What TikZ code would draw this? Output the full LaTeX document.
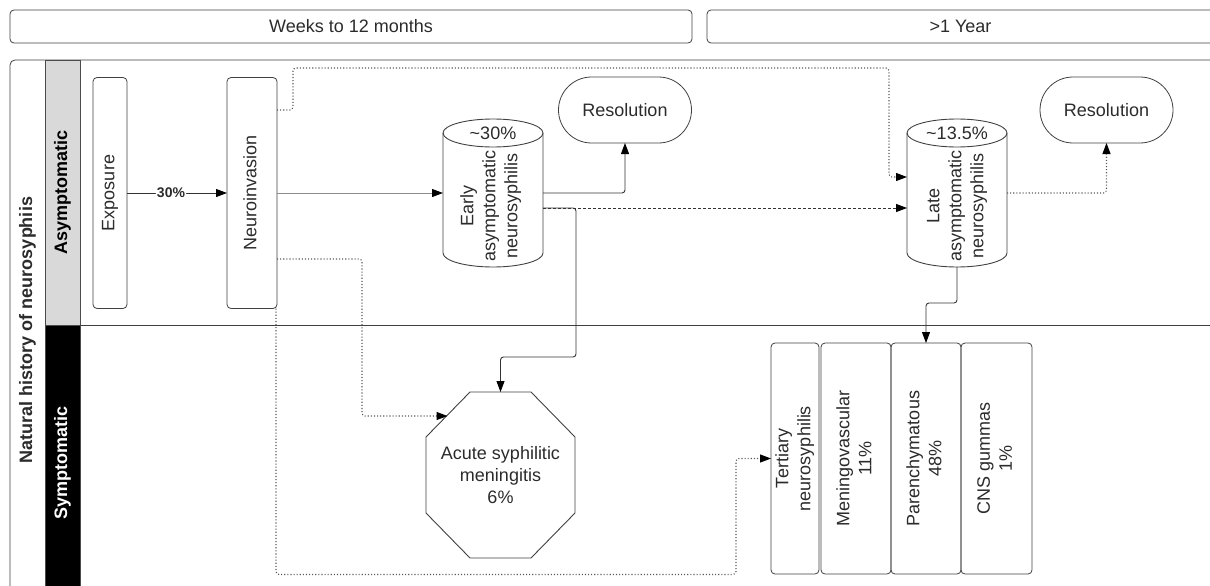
\documentclass[tikz,border=0pt]{standalone}
\usepackage{fontspec}
\setmainfont{Liberation Sans}
\usetikzlibrary{positioning,calc,arrows.meta}

\definecolor{lanegray}{HTML}{D9D9D9}
\definecolor{inkgray}{HTML}{2B2B2B}

\newcommand{\vtext}[1]{\rotatebox{90}{\begin{tabular}{@{}c@{}}#1\end{tabular}}}
\newcommand{\drawcyl}[1]{%
	\draw[shape_line] ([yshift=-14pt]#1.north west) -- ([yshift=14pt]#1.south west)
		arc[start angle=180, end angle=360, x radius=50pt, y radius=14pt]
		-- ([yshift=-14pt]#1.north east);
	\draw[shape_line] ([yshift=-14pt]#1.north) ellipse [x radius=50pt, y radius=14pt];}

\tikzstyle{bar} = [draw=black!75,
				   thick,
				   rounded corners=4pt,
				   minimum height=33pt,
				   outer sep=0pt,
				   font=\fontsize{18}{22}\selectfont,
				   text=inkgray,
				   anchor=west]
\tikzstyle{lane_head} = [draw=black!70,
						 minimum width=35pt,
						 inner sep=0pt,
						 outer sep=0pt,
						 font=\bfseries\fontsize{18}{22}\selectfont,
						 anchor=north]
\tikzstyle{tall_box} = [draw=black!75,
						thick,
						rounded corners=4pt,
						minimum height=231pt,
						inner sep=0pt,
						outer sep=0pt,
						font=\fontsize{18}{22}\selectfont,
						text=inkgray]
\tikzstyle{stadium} = [draw=black!75,
					   thick,
					   rounded corners=33pt,
					   minimum width=133pt,
					   minimum height=66pt,
					   outer sep=0pt,
					   font=\fontsize{18}{22}\selectfont,
					   text=inkgray]
\tikzstyle{cyl_body} = [minimum width=100pt,
						minimum height=148pt,
						inner sep=0pt,
						outer sep=0pt]
\tikzstyle{txt} = [inner sep=0pt,
				   font=\fontsize{18}{22}\selectfont,
				   text=inkgray]
\tikzstyle{pct_label} = [fill=white,
						 inner sep=1pt,
						 font=\bfseries\fontsize{14}{16}\selectfont,
						 text=inkgray]
\tikzstyle{shape_line} = [draw=black!75, line width=0.9pt]
\tikzstyle{conn_arrow} = [draw=black!80,
						  line width=0.9pt,
						  rounded corners=3pt,
						  -{Triangle[length=11pt,width=8pt,color=black]}]
\tikzstyle{conn_dot} = [conn_arrow, draw=black!65, line width=1.1pt, dotted]
\tikzstyle{conn_dash} = [conn_arrow, dash pattern=on 3pt off 2pt]

\begin{document}
\begin{tikzpicture}[x=1pt, y=-1pt]
	\useasboundingbox (0,0) rectangle (1210,586);
	\clip (0,0) rectangle (1210,586);

	%%%%%%%%%%%%
	% TIMELINE %
	%%%%%%%%%%%%
	\node[bar, minimum width=682pt] (weeks) at (10,26.5) {Weeks to 12 months};
	\node[bar, minimum width=507pt, right=15pt of weeks] (year) {>1 Year};

	%%%%%%%%%%%%%
	% SWIMLANES %
	%%%%%%%%%%%%%
	\draw[draw=black!75, thick, rounded corners=5pt] (1214,60) -- (10,60) -- (10,600);
	\node[lane_head, fill=lanegray, minimum height=265pt] (asym) at (62.5,60) {\rotatebox{90}{Asymptomatic}};
	\node[lane_head, fill=black, text=white, minimum height=275pt, below=0pt of asym] (symp) {\rotatebox{90}{Symptomatic}};
	\draw[draw=black!75, thick] (asym.south east) -- ++(1134,0);
	\node[font=\bfseries\fontsize{18}{22}\selectfont, text=inkgray] (title) at (27.5,330) {\rotatebox{90}{Natural history of neurosyphiis}};

	%%%%%%%%%%%%%%%%
	% EARLY COLUMN %
	%%%%%%%%%%%%%%%%
	\node[tall_box, minimum width=34pt] (expo) at (110,193) {\vtext{Exposure}};
	\node[tall_box, minimum width=50pt] (neuro) at (252,193) {\vtext{Neuroinvasion}};

	\node[cyl_body] (early) at (493,193) {};
	\drawcyl{early}
	\node[txt] (early_pct) at ([yshift=-14pt]early.north) {\textasciitilde30\%};
	\node[txt] (early_txt) at ([xshift=-2pt, yshift=-13pt]early.center) {\vtext{Early\\asymptomatic\\neurosyphilis}};

	\node[stadium] (res_early) at (625,110) {Resolution};

	\node[minimum width=149pt, minimum height=166pt, inner sep=0pt, outer sep=0pt, align=center, txt] (acute) at (500.5,475) {Acute syphilitic\\meningitis\\6\%};
	\draw[shape_line] ([xshift=44pt]acute.north west) -- ([xshift=-44pt]acute.north east)
		-- ([yshift=-45pt]acute.north east) -- ([yshift=45pt]acute.south east)
		-- ([xshift=-44pt]acute.south east) -- ([xshift=44pt]acute.south west)
		-- ([yshift=45pt]acute.south west) -- ([yshift=-45pt]acute.north west) -- cycle;

	%%%%%%%%%%%%%%%
	% LATE COLUMN %
	%%%%%%%%%%%%%%%
	\node[cyl_body] (late) at (957,193) {};
	\drawcyl{late}
	\node[txt] (late_pct) at ([yshift=-14pt]late.north) {\textasciitilde13.5\%};
	\node[txt] (late_txt) at ([yshift=-13pt]late.center) {\vtext{Late\\asymptomatic\\neurosyphilis}};

	\node[stadium] (res_late) at (1106.5,110) {Resolution};

	\node[tall_box, minimum width=48pt] (tert) at (795,458.5) {\vtext{Tertiary\\neurosyphilis}};
	\node[tall_box, minimum width=70pt, right=2pt of tert] (menin) {\vtext{Meningovascular\\11\%}};
	\node[tall_box, minimum width=70pt, right=0pt of menin] (paren) {\vtext{Parenchymatous\\48\%}};
	\node[tall_box, minimum width=71pt, right=0pt of paren] (gumma) {\vtext{CNS gummas\\1\%}};

	%%%%%%%%%%%%%%
	% CONNECTORS %
	%%%%%%%%%%%%%%
	\draw[conn_arrow] (expo.east) -- node[pct_label, pos=0.44] {30\%} (neuro.west);
	\draw[conn_arrow, draw=black!45] (neuro.east) -- (early.west);
	\draw[conn_dot] ([yshift=83pt]neuro.east) -- ++(16,0) -- ++(0,-42) -- ++(596,0) |- ([yshift=16pt]late.west);
	\draw[conn_dot] ([yshift=-66pt]neuro.east) -- ++(85,0) |- ([xshift=21.5pt, yshift=-24pt]acute.north west);
	\draw[conn_dot] ([xshift=24pt]neuro.south) -- ++(0,266) -- ++(460,0) |- (tert.west);

	\draw[conn_arrow] (early.east) -| (res_early.south);
	\draw[conn_dash] ([yshift=-15pt]early.east) -- ([yshift=-15pt]late.west);
	\draw[conn_arrow] ([yshift=-15pt]early.east) -- ++(33,0) -- ++(0,149) -| (acute.north);

	\draw[conn_dot] (late.east) -| (res_late.south);
	\draw[conn_arrow] (late.south) -- ++(0,36) -| (paren.north);
\end{tikzpicture}
\end{document}
